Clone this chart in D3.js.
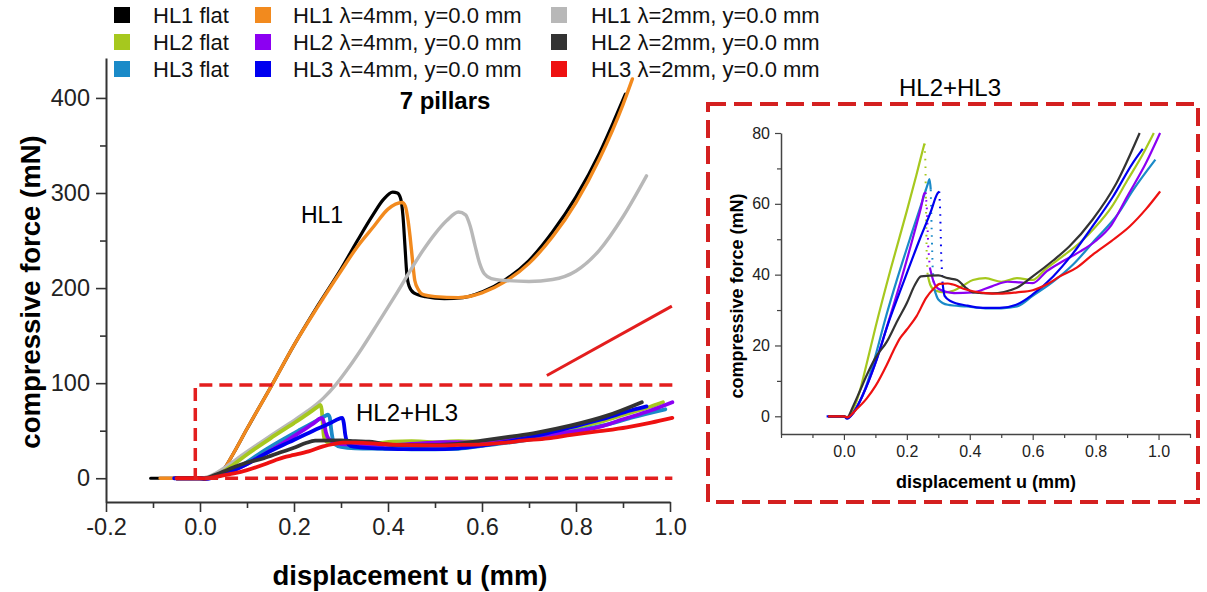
<!DOCTYPE html>
<html><head><meta charset="utf-8">
<script src="https://cdn.jsdelivr.net/npm/d3@7"></script>
<style>
html,body{margin:0;padding:0;background:#fff;}
svg text{font-family:"Liberation Sans",Arial,sans-serif;}
</style></head>
<body><svg id="c" width="1207" height="592"></svg>
<script>
// ---------- DATA ----------
const seriesNames = ["HL1 flat","HL2 flat","HL3 flat",
  "HL1 \u03bb=4mm, y=0.0 mm","HL2 \u03bb=4mm, y=0.0 mm","HL3 \u03bb=4mm, y=0.0 mm",
  "HL1 \u03bb=2mm, y=0.0 mm","HL2 \u03bb=2mm, y=0.0 mm","HL3 \u03bb=2mm, y=0.0 mm"];
const seriesColors = ["#000000","#a6c81e","#1a8ac8","#f28a1e","#8c00f2","#0000f0","#b8b8b8","#333333","#ee1111"];

const xTicksMain = [-0.2,0.0,0.2,0.4,0.6,0.8,1.0];
const xMinorMain = [-0.1,0.1,0.3,0.5,0.7,0.9];
const yTicksMain = [0,100,200,300,400];
const yMinorMain = [50,150,250,350];
const xTicksInset = [0.0,0.2,0.4,0.6,0.8,1.0];
const xMinorInset = [-0.2,-0.1,0.1,0.3,0.5,0.7,0.9,1.1];
const yTicksInset = [0,20,40,60,80];
const yMinorInset = [10,30,50,70];

// [u (mm), F (mN)]
const hl1Flat = [[-0.105,0],[-0.05,0],[0,0],[0.02,0.5],[0.035,3],[0.05,9],[0.071,26],[0.1,52],[0.153,98],[0.2,140],[0.25,181],[0.3,220],[0.335,250],[0.368,277],[0.39,293],[0.41,301],[0.42,300],[0.427,294],[0.432,275],[0.436,245],[0.44,215],[0.445,202],[0.455,195],[0.48,191],[0.52,189],[0.56,190],[0.6,196],[0.65,209],[0.7,229],[0.75,259],[0.8,296],[0.85,342],[0.88,375],[0.905,404]];
const hl1L4 = [[-0.085,0],[-0.04,0],[0,0],[0.02,0.5],[0.035,3],[0.05,9],[0.071,26],[0.1,52],[0.153,98],[0.2,140],[0.25,180],[0.3,218],[0.334,243],[0.37,265],[0.4,283],[0.43,290],[0.437,286],[0.443,270],[0.447,254],[0.452,230],[0.457,208],[0.465,198],[0.475,193],[0.5,191],[0.55,190],[0.6,195],[0.65,207],[0.7,226],[0.75,254],[0.8,290],[0.85,336],[0.9,393],[0.92,420]];
const hl1L2 = [[-0.055,0],[0,0],[0.02,2],[0.049,10],[0.08,21],[0.121,35],[0.16,48],[0.191,58],[0.23,71],[0.262,84],[0.29,99],[0.313,114],[0.345,137],[0.376,161],[0.419,195],[0.475,240],[0.5,257],[0.525,271],[0.55,280],[0.565,277],[0.575,265],[0.585,245],[0.595,226],[0.605,215],[0.62,210],[0.65,208],[0.7,207],[0.75,209],[0.8,218],[0.85,240],[0.9,275],[0.95,318]];
const hl2Flat = [[-0.05,0],[0,0],[0.01,-0.5],[0.03,2],[0.05,7],[0.07,14],[0.1,25],[0.15,42],[0.2,58],[0.23,68],[0.25,75],[0.256,77],[0.259,72],[0.261,58],[0.263,46],[0.266,40],[0.275,37],[0.29,35.5],[0.32,35],[0.35,35.5],[0.38,37],[0.41,38.5],[0.45,39],[0.5,38],[0.55,39],[0.6,38.5],[0.64,41.5],[0.7,45.5],[0.75,49],[0.8,53.5],[0.85,59],[0.9,66.5],[0.95,74],[0.985,80]];
const hl3Flat = [[-0.05,0],[0,0],[0.01,-0.5],[0.03,1],[0.05,4],[0.08,11],[0.1,17],[0.13,27],[0.17,39],[0.213,51],[0.25,61],[0.268,66],[0.272,67],[0.276,64],[0.279,52],[0.282,42],[0.287,36],[0.3,33],[0.33,31.5],[0.39,31],[0.45,30.5],[0.5,30.5],[0.55,31],[0.6,34],[0.665,38],[0.73,43],[0.8,50],[0.87,57],[0.92,64],[0.99,72.5]];
const hl2L4 = [[-0.05,0],[0,0],[0.01,-0.5],[0.03,1],[0.06,6],[0.1,15],[0.146,28],[0.18,38],[0.218,50],[0.245,59],[0.256,63],[0.26,63.2],[0.264,58],[0.268,48],[0.273,42],[0.285,38],[0.3,36],[0.35,34.8],[0.41,35],[0.47,36.7],[0.52,38],[0.56,37.8],[0.6,37.6],[0.645,41],[0.7,44],[0.75,46.5],[0.8,49.5],[0.85,54],[0.9,62],[0.96,71.5],[1.005,80]];
const hl3L4 = [[-0.055,0],[0,0],[0.01,-0.7],[0.03,1],[0.06,6],[0.1,15],[0.14,26],[0.19,38],[0.241,50],[0.275,57.5],[0.298,63],[0.303,63.5],[0.306,58],[0.309,46],[0.313,38],[0.32,34],[0.34,32.5],[0.389,31.3],[0.442,30.6],[0.495,30.6],[0.548,31.5],[0.6,34.4],[0.665,39.5],[0.728,46],[0.79,53.6],[0.855,62],[0.918,71.5],[0.95,75.5]];
const hl2L2 = [[-0.05,0],[0,0],[0.01,-0.3],[0.03,3],[0.05,7],[0.072,11.5],[0.1,16.5],[0.136,21],[0.17,27],[0.2,32],[0.225,37],[0.245,39.5],[0.3,39.8],[0.33,39],[0.36,38.5],[0.385,36.5],[0.41,35],[0.47,34.7],[0.548,36.2],[0.6,39.5],[0.665,44],[0.717,48],[0.79,55.5],[0.866,65.8],[0.94,80]];
const hl3L2 = [[-0.05,0],[0,0],[0.01,-0.3],[0.04,2],[0.072,5],[0.1,8.5],[0.136,14.5],[0.16,19],[0.178,22],[0.2,24.5],[0.231,28.3],[0.262,33.5],[0.285,36],[0.305,37.4],[0.33,37.5],[0.347,37.2],[0.38,36],[0.41,35.3],[0.45,34.8],[0.495,34.6],[0.55,35],[0.6,35.6],[0.65,37.5],[0.686,39.5],[0.74,42],[0.79,45.6],[0.85,49.5],[0.908,53.6],[0.96,58.5],[1.005,63.5]];

const connectorLine = [[0.738,108],[1.004,181]];
const zoomBox = {u0:-0.01,u1:1.005,f0:0,f1:98};

// ---------- DRAW ----------
const svg = d3.select("#c");
const FONT = "'Liberation Sans',Arial,sans-serif";

const x = d3.scaleLinear([-0.2,1.0],[106,670]);
const y = d3.scaleLinear([-25,442],[502,58]);
const xi = d3.scaleLinear([-0.2,1.1],[781,1190]);
const yi = d3.scaleLinear([-5,80],[434,133]);

const fmt = d => d3.format(".1f")(d).replace("\u2212","-");

function drawAxes(g, xs, ys, xT, xM, yT, yM, o){
  g.append("g").attr("transform",`translate(0,${ys.range()[0]})`)
    .call(d3.axisBottom(xs).tickValues(xT).tickFormat(fmt).tickSize(o.major).tickSizeOuter(0).tickPadding(o.xpad));
  g.append("g").attr("transform",`translate(0,${ys.range()[0]})`)
    .call(d3.axisBottom(xs).tickValues(xM).tickFormat("").tickSize(o.minor).tickSizeOuter(0))
    .select(".domain").remove();
  g.append("g").attr("transform",`translate(${xs.range()[0]},0)`)
    .call(d3.axisLeft(ys).tickValues(yT).tickFormat(d3.format("d")).tickSize(o.major).tickSizeOuter(0).tickPadding(o.ypad));
  g.append("g").attr("transform",`translate(${xs.range()[0]},0)`)
    .call(d3.axisLeft(ys).tickValues(yM).tickFormat("").tickSize(o.minor).tickSizeOuter(0))
    .select(".domain").remove();
  g.selectAll(".domain").attr("stroke",o.axisColor).attr("stroke-width",o.axisW);
  g.selectAll(".tick line").attr("stroke",o.axisColor).attr("stroke-width",o.tickW);
  g.selectAll(".tick text").attr("font-family",FONT).attr("font-size",o.fs).attr("fill","#222");
}

// ---- main chart ----
const gm = svg.append("g");
drawAxes(gm, x, y, xTicksMain, xMinorMain, yTicksMain, yMinorMain,
  {major:10,minor:6,xpad:6,ypad:6,axisColor:"#333",axisW:2,tickW:1.6,fs:23.5});

const lineM = d3.line().x(d=>x(d[0])).y(d=>y(d[1])).curve(d3.curveMonotoneX);
const mainOrder = [
  [hl1Flat,0,3.2],[hl1L4,3,3.4],[hl1L2,6,3.4],
  [hl2Flat,1,3.8],[hl3Flat,2,3.8],[hl2L4,4,3.8],[hl3L4,5,3.8],[hl2L2,7,3.8],[hl3L2,8,3.8]
];
gm.selectAll("path.s").data(mainOrder).join("path").attr("class","s")
  .attr("d",d=>lineM(d[0])).attr("fill","none")
  .attr("stroke",d=>seriesColors[d[1]]).attr("stroke-width",d=>d[2])
  .attr("stroke-linejoin","round").attr("stroke-linecap","round");

gm.append("path")
  .attr("d",d3.line()([[x(zoomBox.u1),y(zoomBox.f1)],[x(zoomBox.u0),y(zoomBox.f1)],[x(zoomBox.u0),y(zoomBox.f0)],[x(zoomBox.u1),y(zoomBox.f0)]]))
  .attr("fill","none").attr("stroke","#e31e1e").attr("stroke-width",3.5).attr("stroke-dasharray","13,7");
gm.append("path").attr("d",d3.line().x(d=>x(d[0])).y(d=>y(d[1]))(connectorLine))
  .attr("stroke","#e31e1e").attr("stroke-width",3).attr("fill","none");

gm.append("text").attr("x",445).attr("y",109).attr("text-anchor","middle")
  .attr("font-family",FONT).attr("font-weight","bold").attr("font-size",24).text("7 pillars");
gm.append("text").attr("x",322).attr("y",223).attr("text-anchor","middle")
  .attr("font-family",FONT).attr("font-size",23).text("HL1");
gm.append("text").attr("x",407).attr("y",421).attr("text-anchor","middle")
  .attr("font-family",FONT).attr("font-size",24).text("HL2+HL3");
gm.append("text").attr("x",410).attr("y",585).attr("text-anchor","middle")
  .attr("font-family",FONT).attr("font-weight","bold").attr("font-size",27.5).text("displacement u (mm)");
gm.append("text").attr("transform","translate(40,292) rotate(-90)").attr("text-anchor","middle")
  .attr("font-family",FONT).attr("font-weight","bold").attr("font-size",27.5).text("compressive force (mN)");

// legend
const legCols = [[114,153],[255,293],[551,591]];
const legRows = [15,42,69];
const leg = svg.append("g");
seriesNames.forEach((n,i)=>{
  const c = Math.floor(i/3), r = i%3;
  leg.append("rect").attr("x",legCols[c][0]).attr("y",legRows[r]-8).attr("width",16).attr("height",16).attr("fill",seriesColors[i]);
  leg.append("text").attr("x",legCols[c][1]).attr("y",legRows[r]+8).attr("font-family",FONT).attr("font-size",22).attr("fill","#111").text(n);
});

// ---- inset ----
const gi = svg.append("g");
gi.append("rect").attr("x",708).attr("y",104).attr("width",490).attr("height",398)
  .attr("fill","none").attr("stroke","#d42020").attr("stroke-width",4).attr("stroke-dasharray","18,8");
gi.append("text").attr("x",950).attr("y",96).attr("text-anchor","middle")
  .attr("font-family",FONT).attr("font-size",24).text("HL2+HL3");
drawAxes(gi, xi, yi, xTicksInset, xMinorInset, yTicksInset, yMinorInset,
  {major:6,minor:4,xpad:6,ypad:5,axisColor:"#444",axisW:1.5,tickW:1.2,fs:16});

// split each series into solid parts and steep-drop parts (drawn dotted, as sparse points)
function splitDrops(data){
  const parts = []; let cur = null;
  for (let i=0;i<data.length-1;i++){
    const a=data[i], b=data[i+1];
    const drop = (a[1]-b[1])/(b[0]-a[0]) > 1000;
    if (!cur || cur.drop!==drop){ cur={drop,pts:[a]}; parts.push(cur); }
    cur.pts.push(b);
  }
  return parts;
}
const lineI = d3.line().x(d=>xi(d[0])).y(d=>yi(d[1])).curve(d3.curveMonotoneX);
const lineIL = d3.line().x(d=>xi(d[0])).y(d=>yi(d[1]));
const insetOrder = [[hl2Flat,1],[hl3Flat,2],[hl2L4,4],[hl3L4,5],[hl2L2,7],[hl3L2,8]];
insetOrder.forEach(([data,ci])=>{
  splitDrops(data).forEach(p=>{
    gi.append("path").attr("d",p.drop?lineIL(p.pts):lineI(p.pts)).attr("fill","none")
      .attr("stroke",seriesColors[ci]).attr("stroke-width",p.drop?2:2.2)
      .attr("stroke-dasharray",p.drop?"1.6,6":null)
      .attr("stroke-linejoin","round");
  });
});
gi.append("text").attr("x",986).attr("y",488).attr("text-anchor","middle")
  .attr("font-family",FONT).attr("font-weight","bold").attr("font-size",18).text("displacement u (mm)");
gi.append("text").attr("transform","translate(743,296) rotate(-90)").attr("text-anchor","middle")
  .attr("font-family",FONT).attr("font-weight","bold").attr("font-size",18).text("compressive force (mN)");
</script></body></html>
